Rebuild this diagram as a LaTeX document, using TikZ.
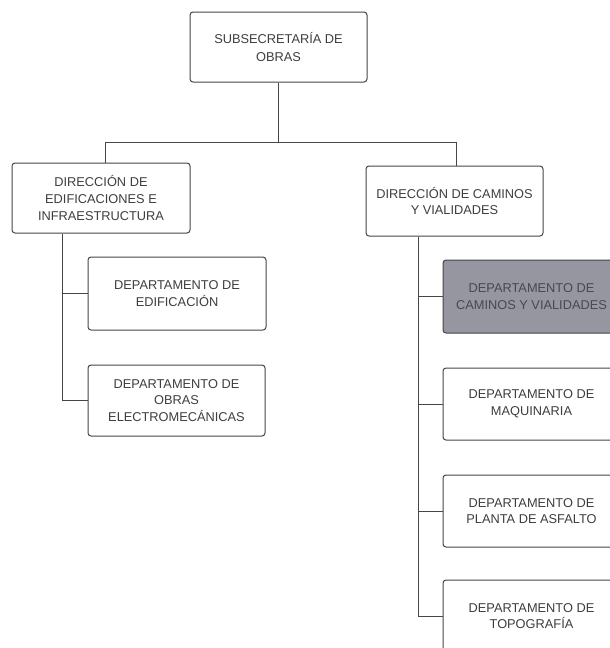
\documentclass[tikz,border=0pt]{standalone}
\usepackage{fontspec}
\setmainfont{Liberation Sans}
\definecolor{inkgray}{RGB}{62,62,62}
\definecolor{linegray}{RGB}{70,70,70}
\definecolor{hilite}{RGB}{150,150,160}
\definecolor{hilitetext}{RGB}{72,72,78}
\begin{document}
\begin{tikzpicture}[x=1pt,y=-1pt,
  unit/.style={draw=linegray, line width=1pt, rounded corners=3pt,
    minimum width=177pt, minimum height=71pt, align=center,
    text=inkgray, font=\fontsize{12.8}{16.7}\selectfont, inner sep=2pt},
  current/.style={fill=hilite, text=hilitetext},
  link/.style={draw=linegray, line width=1pt}]
  \useasboundingbox (0,0) rectangle (610,648);
  \clip (0,0) rectangle (610,648);
  \fill[white] (0,0) rectangle (610,648);

  % head office
  \node[unit, minimum height=70pt] (top) at (278.5,47)
    {SUBSECRETARÍA DE\\[1.3pt]OBRAS};

  % directorates
  \node[unit, minimum width=178pt, minimum height=70pt] (ldir) at (101,198)
    {DIRECCIÓN DE\\EDIFICACIONES E\\INFRAESTRUCTURA};
  \node[unit, minimum height=70pt] (rdir) at (454.5,201)
    {DIRECCIÓN DE CAMINOS\\Y VIALIDADES};

  % departments under the building directorate
  \node[unit, minimum width=178pt, minimum height=73pt] (edif) at (177,293.5)
    {DEPARTAMENTO DE\\EDIFICACIÓN};
  \node[unit] (obras) at (176.5,400.5)
    {DEPARTAMENTO DE\\OBRAS\\ELECTROMECÁNICAS};

  % departments under the roads directorate
  \node[unit, current, minimum height=73pt] (caminos) at (531.5,296.5)
    {DEPARTAMENTO DE\\CAMINOS Y VIALIDADES};
  \node[unit, minimum height=72pt] (maq) at (531.5,404) {DEPARTAMENTO DE\\MAQUINARIA};
  \node[unit, minimum height=72pt] (asf) at (531.5,511) {DEPARTAMENTO DE\\PLANTA DE ASFALTO};
  \node[unit, minimum height=72pt] (topo) at (531.5,616) {DEPARTAMENTO DE\\TOPOGRAFÍA};

  % bus lines
  \coordinate (bl) at (105,142);
  \coordinate (br) at (456,142);
  \coordinate (lx) at (62,0);
  \coordinate (rx) at (418,0);

  \draw[link] (top.south) -- (top.south |- bl);
  \draw[link] (bl |- ldir.north) -- (bl) -- (br) -- (br |- rdir.north);

  \draw[link] (lx |- ldir.south) -- (lx |- obras.west) -- (obras.west);
  \draw[link] (lx |- edif.west) -- (edif.west);

  \draw[link] (rx |- rdir.south) -- (rx |- topo.west) -- (topo.west);
  \draw[link] (rx |- caminos.west) -- (caminos.west);
  \draw[link] (rx |- maq.west) -- (maq.west);
  \draw[link] (rx |- asf.west) -- (asf.west);
\end{tikzpicture}
\end{document}
